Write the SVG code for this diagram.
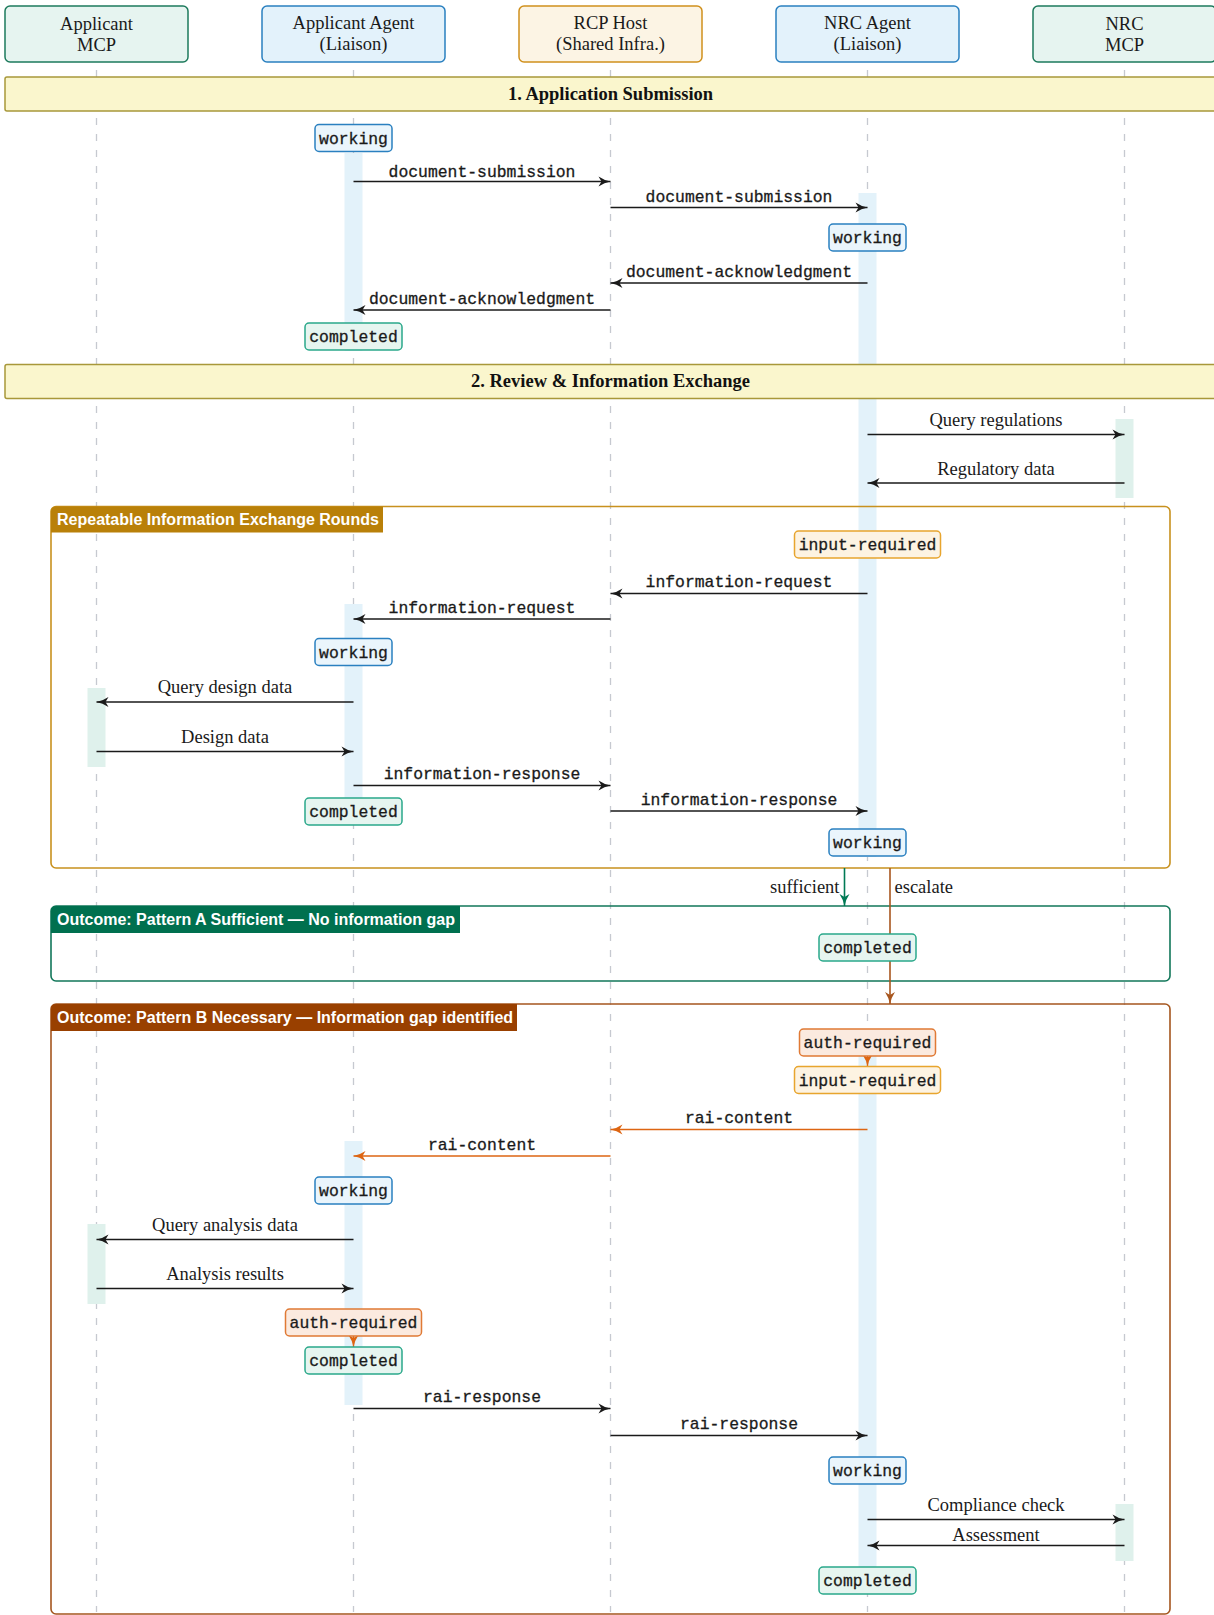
<svg xmlns="http://www.w3.org/2000/svg" width="1214" height="1615" viewBox="0 0 1214 1615">
<style>
.hd{font-family:"Liberation Serif","Times New Roman",serif;font-size:18.5px;fill:#1a1a1a;text-anchor:middle}
.sec{font-family:"Liberation Serif","Times New Roman",serif;font-size:18.5px;font-weight:bold;fill:#111;text-anchor:middle}
.ser{font-family:"Liberation Serif","Times New Roman",serif;font-size:18.5px;fill:#1a1a1a;text-anchor:middle}
.mono{font-family:"Liberation Mono","Courier New",monospace;font-size:16.4px;fill:#1a1a1a;stroke:#1a1a1a;stroke-width:0.3;text-anchor:middle}
.tab{font-family:"Liberation Sans",Arial,sans-serif;font-size:16px;font-weight:bold;fill:#ffffff}
.life{stroke:#c6c9d0;stroke-width:1.3;stroke-dasharray:7 9;fill:none}
.actB{fill:#e3f2fa}
.actG{fill:#dff1ec}
.msg{stroke:#1a1a1a;stroke-width:1.4;fill:none;marker-end:url(#ah)}
.msgO{stroke:#dd6512;stroke-width:1.4;fill:none;marker-end:url(#ahO)}
.bw{fill:#eaf5fc;stroke:#2a80c0;stroke-width:1.5}
.bc{fill:#e6f5f0;stroke:#2aa88a;stroke-width:1.5}
.bi{fill:#fdf3e2;stroke:#e8a52e;stroke-width:1.5}
.ba{fill:#fbeadf;stroke:#e07a35;stroke-width:1.5}
.secbar{fill:#faf6cd;stroke:#a8983a;stroke-width:1.5}
</style>
<defs>
<marker id="ah" viewBox="-13 -6 14 12" refX="0" refY="0" markerWidth="14" markerHeight="12" markerUnits="userSpaceOnUse" orient="auto">
<path d="M-12,-5 Q-6,-1 0,0 Q-6,1 -12,5 L-9,0 Z" fill="#1a1a1a"/>
</marker>
<marker id="ahO" viewBox="-13 -6 14 12" refX="0" refY="0" markerWidth="14" markerHeight="12" markerUnits="userSpaceOnUse" orient="auto">
<path d="M-12,-5 Q-6,-1 0,0 Q-6,1 -12,5 L-9,0 Z" fill="#dd6512"/>
</marker>
<marker id="ahG" viewBox="-13 -6 14 12" refX="0" refY="0" markerWidth="14" markerHeight="12" markerUnits="userSpaceOnUse" orient="auto">
<path d="M-12,-5 Q-6,-1 0,0 Q-6,1 -12,5 L-9,0 Z" fill="#007a55"/>
</marker>
<marker id="ahR" viewBox="-13 -6 14 12" refX="0" refY="0" markerWidth="14" markerHeight="12" markerUnits="userSpaceOnUse" orient="auto">
<path d="M-12,-5 Q-6,-1 0,0 Q-6,1 -12,5 L-9,0 Z" fill="#a8561e"/>
</marker>
</defs>
<rect width="1214" height="1615" fill="#ffffff"/>

<g id="lifelines">
<line class="life" x1="96.5" y1="70" x2="96.5" y2="1612"/>
<line class="life" x1="353.5" y1="70" x2="353.5" y2="1612"/>
<line class="life" x1="610.5" y1="70" x2="610.5" y2="1612"/>
<line class="life" x1="867.5" y1="70" x2="867.5" y2="1612"/>
<line class="life" x1="1124.5" y1="70" x2="1124.5" y2="1612"/>
</g>

<g id="activations">
<rect class="actB" x="344.5" y="153" width="18" height="198"/>
<rect class="actB" x="344.5" y="604" width="18" height="221"/>
<rect class="actB" x="344.5" y="1141" width="18" height="264"/>
<rect class="actB" x="858.5" y="193" width="18" height="664"/>
<rect class="actB" x="858.5" y="1030" width="18" height="564"/>
<rect class="actG" x="87.5" y="688" width="18" height="79"/>
<rect class="actG" x="87.5" y="1224" width="18" height="80"/>
<rect class="actG" x="1115.5" y="419" width="18" height="79"/>
<rect class="actG" x="1115.5" y="1504" width="18" height="57"/>
</g>

<g id="participants">
<g id="p-applicant-mcp"><rect x="5" y="6" width="183" height="56" rx="5" fill="#e6f4f0" stroke="#1d7a5c" stroke-width="1.5"/><text class="hd" x="96.5" y="29.5">Applicant</text><text class="hd" x="96.5" y="50.5">MCP</text></g>
<g id="p-applicant-agent"><rect x="262" y="6" width="183" height="56" rx="5" fill="#e3f2fb" stroke="#2a80c0" stroke-width="1.5"/><text class="hd" x="353.5" y="29">Applicant Agent</text><text class="hd" x="353.5" y="50">(Liaison)</text></g>
<g id="p-rcp-host"><rect x="519" y="6" width="183" height="56" rx="5" fill="#fcf4e4" stroke="#d0901c" stroke-width="1.5"/><text class="hd" x="610.5" y="29">RCP Host</text><text class="hd" x="610.5" y="50">(Shared Infra.)</text></g>
<g id="p-nrc-agent"><rect x="776" y="6" width="183" height="56" rx="5" fill="#e3f2fb" stroke="#2a80c0" stroke-width="1.5"/><text class="hd" x="867.5" y="29">NRC Agent</text><text class="hd" x="867.5" y="50">(Liaison)</text></g>
<g id="p-nrc-mcp"><rect x="1033" y="6" width="183" height="56" rx="5" fill="#e6f4f0" stroke="#1d7a5c" stroke-width="1.5"/><text class="hd" x="1124.5" y="29.5">NRC</text><text class="hd" x="1124.5" y="50.5">MCP</text></g>
</g>

<g id="sections">
<g id="sec1"><rect class="secbar" x="5" y="77" width="1212" height="34" rx="2"/><text class="sec" x="610.5" y="99.5">1. Application Submission</text></g>
<g id="sec2"><rect class="secbar" x="5" y="364.5" width="1212" height="34" rx="2"/><text class="sec" x="610.5" y="387">2. Review &amp; Information Exchange</text></g>
</g>

<g id="frames">
<g id="loop-frame"><rect x="51" y="506.5" width="1119" height="361.5" rx="5" fill="none" stroke="#c8911e" stroke-width="1.6"/><path d="M51,511.5 Q51,506.5 56,506.5 L383,506.5 L383,532.5 L51,532.5 Z" fill="#b98009"/><text class="tab" x="57" y="525">Repeatable Information Exchange Rounds</text></g>
<g id="pattern-a"><rect x="51" y="906" width="1119" height="75" rx="5" fill="none" stroke="#12775a" stroke-width="1.6"/><path d="M51,911 Q51,906 56,906 L460,906 L460,933 L51,933 Z" fill="#00704f"/><text class="tab" x="57" y="925">Outcome: Pattern A Sufficient — No information gap</text></g>
<g id="pattern-b"><rect x="51" y="1004" width="1119" height="610" rx="5" fill="none" stroke="#a5561f" stroke-width="1.6"/><path d="M51,1009 Q51,1004 56,1004 L517,1004 L517,1031 L51,1031 Z" fill="#994000"/><text class="tab" x="57" y="1023">Outcome: Pattern B Necessary — Information gap identified</text></g>
</g>

<g id="connectors">
<line class="msg" x1="353.5" y1="181.5" x2="610.5" y2="181.5"/>
<line class="msg" x1="610.5" y1="207.5" x2="867.5" y2="207.5"/>
<line class="msg" x1="867.5" y1="283" x2="610.5" y2="283"/>
<line class="msg" x1="610.5" y1="310" x2="353.5" y2="310"/>
<line class="msg" x1="867.5" y1="434.5" x2="1124.5" y2="434.5"/>
<line class="msg" x1="1124.5" y1="483" x2="867.5" y2="483"/>
<line class="msg" x1="867.5" y1="593.5" x2="610.5" y2="593.5"/>
<line class="msg" x1="610.5" y1="619" x2="353.5" y2="619"/>
<line class="msg" x1="353.5" y1="702" x2="96.5" y2="702"/>
<line class="msg" x1="96.5" y1="751.5" x2="353.5" y2="751.5"/>
<line class="msg" x1="353.5" y1="785.5" x2="610.5" y2="785.5"/>
<line class="msg" x1="610.5" y1="811" x2="867.5" y2="811"/>
<line x1="844.5" y1="868" x2="844.5" y2="906" stroke="#007a55" stroke-width="1.6" marker-end="url(#ahG)"/>
<line x1="890" y1="868" x2="890" y2="1004" stroke="#a8561e" stroke-width="1.6" marker-end="url(#ahR)"/>
<line x1="867.5" y1="1056" x2="867.5" y2="1066.5" stroke="#dd6512" stroke-width="1.4" marker-end="url(#ahO)"/>
<line class="msgO" x1="867.5" y1="1129.5" x2="610.5" y2="1129.5"/>
<line class="msgO" x1="610.5" y1="1156" x2="353.5" y2="1156"/>
<line class="msg" x1="353.5" y1="1239.5" x2="96.5" y2="1239.5"/>
<line class="msg" x1="96.5" y1="1288.5" x2="353.5" y2="1288.5"/>
<line x1="353.5" y1="1336" x2="353.5" y2="1347" stroke="#dd6512" stroke-width="1.4" marker-end="url(#ahO)"/>
<line class="msg" x1="353.5" y1="1408.5" x2="610.5" y2="1408.5"/>
<line class="msg" x1="610.5" y1="1435.5" x2="867.5" y2="1435.5"/>
<line class="msg" x1="867.5" y1="1519.5" x2="1124.5" y2="1519.5"/>
<line class="msg" x1="1124.5" y1="1545.5" x2="867.5" y2="1545.5"/>
</g>

<g id="connector-labels">
<text class="mono" x="482" y="176.5">document-submission</text>
<text class="mono" x="739" y="202">document-submission</text>
<text class="mono" x="739" y="277">document-acknowledgment</text>
<text class="mono" x="482" y="304">document-acknowledgment</text>
<text class="ser" x="996" y="426">Query regulations</text>
<text class="ser" x="996" y="474.5">Regulatory data</text>
<text class="mono" x="739" y="587">information-request</text>
<text class="mono" x="482" y="612.5">information-request</text>
<text class="ser" x="225" y="693">Query design data</text>
<text class="ser" x="225" y="742.5">Design data</text>
<text class="mono" x="482" y="779">information-response</text>
<text class="mono" x="739" y="804.5">information-response</text>
<text class="ser" x="839.5" y="893" style="text-anchor:end">sufficient</text>
<text class="ser" x="894.5" y="893" style="text-anchor:start">escalate</text>
<text class="mono" x="739" y="1123">rai-content</text>
<text class="mono" x="482" y="1149.5">rai-content</text>
<text class="ser" x="225" y="1231">Query analysis data</text>
<text class="ser" x="225" y="1280">Analysis results</text>
<text class="mono" x="482" y="1402">rai-response</text>
<text class="mono" x="739" y="1429">rai-response</text>
<text class="ser" x="996" y="1511">Compliance check</text>
<text class="ser" x="996" y="1541">Assessment</text>
</g>

<g id="states">
<g id="s1"><rect class="bw" x="315" y="124.5" width="77" height="27" rx="4"/><text class="mono" x="353.5" y="143.5">working</text></g>
<g id="s2"><rect class="bw" x="829" y="224" width="77" height="27" rx="4"/><text class="mono" x="867.5" y="243">working</text></g>
<g id="s3"><rect class="bc" x="305" y="323" width="97" height="27" rx="4"/><text class="mono" x="353.5" y="342">completed</text></g>
<g id="s4"><rect class="bi" x="794.5" y="531" width="146" height="27" rx="4"/><text class="mono" x="867.5" y="550">input-required</text></g>
<g id="s5"><rect class="bw" x="315" y="638.5" width="77" height="27" rx="4"/><text class="mono" x="353.5" y="657.5">working</text></g>
<g id="s6"><rect class="bc" x="305" y="798" width="97" height="27" rx="4"/><text class="mono" x="353.5" y="817">completed</text></g>
<g id="s7"><rect class="bw" x="829" y="829" width="77" height="27" rx="4"/><text class="mono" x="867.5" y="848">working</text></g>
<g id="s8"><rect class="bc" x="819" y="934" width="97" height="27" rx="4"/><text class="mono" x="867.5" y="953">completed</text></g>
<g id="s9"><rect class="ba" x="799.5" y="1029" width="136" height="27" rx="4"/><text class="mono" x="867.5" y="1048">auth-required</text></g>
<g id="s10"><rect class="bi" x="794.5" y="1066.5" width="146" height="27" rx="4"/><text class="mono" x="867.5" y="1085.5">input-required</text></g>
<g id="s11"><rect class="bw" x="315" y="1177" width="77" height="27" rx="4"/><text class="mono" x="353.5" y="1196">working</text></g>
<g id="s12"><rect class="ba" x="285.5" y="1309" width="136" height="27" rx="4"/><text class="mono" x="353.5" y="1328">auth-required</text></g>
<g id="s13"><rect class="bc" x="305" y="1347" width="97" height="27" rx="4"/><text class="mono" x="353.5" y="1366">completed</text></g>
<g id="s14"><rect class="bw" x="829" y="1457" width="77" height="27" rx="4"/><text class="mono" x="867.5" y="1476">working</text></g>
<g id="s15"><rect class="bc" x="819" y="1567" width="97" height="27" rx="4"/><text class="mono" x="867.5" y="1586">completed</text></g>
</g>
</svg>
